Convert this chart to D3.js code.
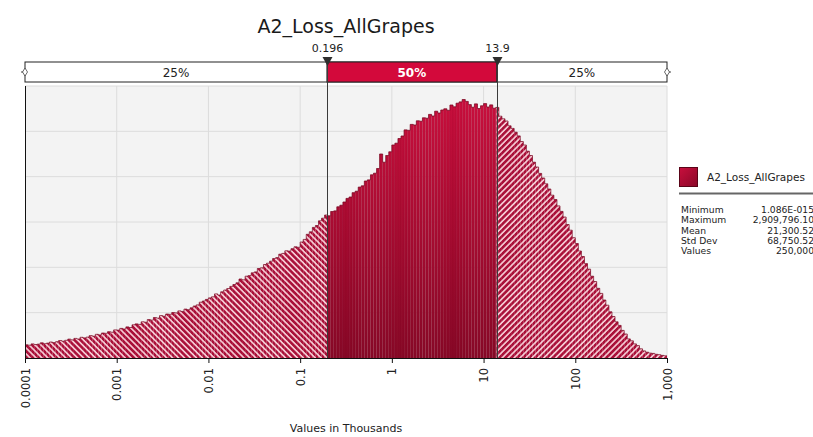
<!DOCTYPE html>
<html>
<head>
<meta charset="utf-8">
<script src="https://cdn.jsdelivr.net/npm/d3@7"></script>
<style>
  html, body { margin: 0; padding: 0; background: #ffffff; }
  svg { display: block; }
  text { font-family: "DejaVu Sans", Verdana, sans-serif; }
</style>
</head>
<body>
<svg id="chart" width="813" height="437"></svg>
<script>
// ---------------- DATA ----------------
const chartTitle = "A2_Loss_AllGrapes";
const axisTitle = "Values in Thousands";
const domainMin = 0.0001;
const domainMax = 1000;
const binsPerDecade = 30;
// histogram counts per bin (log-spaced bins, 30 per decade, from 0.0001 to 1,000)
const binCounts = [
  132,128,141,135,139,152,143,149,160,154,
  163,175,168,177,189,181,196,190,207,201,
  209,224,218,237,231,250,247,263,258,281,
  279,296,290,311,305,332,341,336,362,358,
  384,379,405,399,424,418,440,437,455,451,
  471,466,489,483,502,520,531,558,570,586,
  601,612,641,630,662,680,695,716,735,752,
  790,782,818,824,852,861,895,902,935,948,
  968,995,1004,1038,1046,1072,1069,1093,1112,1107,
  1160,1186,1237,1262,1306,1325,1372,1398,1430,1422,
  1465,1471,1512,1528,1560,1596,1610,1653,1668,1709,
  1722,1770,1781,1832,1848,1895,2040,1958,2025,2062,
  2130,2148,2195,2220,2281,2277,2336,2330,2372,2368,
  2402,2398,2436,2420,2468,2450,2480,2492,2477,2530,
  2512,2548,2561,2585,2566,2534,2508,2541,2495,2522,
  2544,2510,2531,2498,2506,2418,2392,2370,2322,2296,
  2258,2221,2165,2130,2068,2025,1958,1910,1846,1800,
  1742,1690,1628,1585,1521,1466,1410,1335,1278,1203,
  1145,1070,1015,944,889,818,765,697,646,580,
  528,462,415,362,326,276,240,191,172,141,
  124,92,71,58,49,46,37,33,26,22
];
const yMaxCount = 2720;
const gridDivisions = 6;
const tickValues = [0.0001, 0.001, 0.01, 0.1, 1, 10, 100, 1000];
const tickLabels = ["0.0001", "0.001", "0.01", "0.1", "1", "10", "100", "1,000"];
const quantileValues = [0.196, 13.9];
const quantileLabels = ["0.196", "13.9"];
const sectionLabels = ["25%", "50%", "25%"];
const legendName = "A2_Loss_AllGrapes";
const statNames = ["Minimum", "Maximum", "Mean", "Std Dev", "Values"];
const statValues = ["1.086E-015", "2,909,796.10", "21,300.52", "68,750.52", "250,000"];

// ---------------- LAYOUT ----------------
const plotLeft = 25, plotRight = 667, plotTop = 86, plotBottom = 358;
const barTop = 62, barBottom = 82;

const svg = d3.select("#chart");
const x = d3.scaleLog().domain([domainMin, domainMax]).range([plotLeft, plotRight]);
const y = d3.scaleLinear().domain([0, yMaxCount]).range([plotBottom, plotTop]);

const logMin = Math.log10(domainMin);
const bins = binCounts.map((c, i) => ({
  x0: Math.pow(10, logMin + i / binsPerDecade),
  x1: Math.pow(10, logMin + (i + 1) / binsPerDecade),
  count: c
}));

// defs
const defs = svg.append("defs");
const grad = defs.append("linearGradient").attr("id", "solidGrad")
  .attr("gradientUnits", "userSpaceOnUse")
  .attr("x1", 0).attr("x2", 0).attr("y1", plotTop).attr("y2", plotBottom);
grad.append("stop").attr("offset", "0%").attr("stop-color", "#cc0f3e");
grad.append("stop").attr("offset", "100%").attr("stop-color", "#860826");

const legGrad = defs.append("linearGradient").attr("id", "legGrad")
  .attr("x1", 0).attr("x2", 1).attr("y1", 0).attr("y2", 1);
legGrad.append("stop").attr("offset", "0%").attr("stop-color", "#c80f3d");
legGrad.append("stop").attr("offset", "100%").attr("stop-color", "#8a0828");

function hatch(id, angle) {
  const p = defs.append("pattern").attr("id", id)
    .attr("patternUnits", "userSpaceOnUse")
    .attr("width", 4.2).attr("height", 4.2)
    .attr("patternTransform", `rotate(${angle})`);
  p.append("rect").attr("width", 4.2).attr("height", 4.2).attr("fill", "#a90f38");
  p.append("rect").attr("x", 2.6).attr("width", 1.6).attr("height", 4.2).attr("fill", "#f7cdd6");
}
hatch("hatchL", -45);
hatch("hatchR", 45);

const xq1 = x(quantileValues[0]);
const xq2 = x(quantileValues[1]);
const clipDefs = [
  { id: "clipL", x0: plotLeft, x1: xq1 },
  { id: "clipM", x0: xq1, x1: xq2 },
  { id: "clipR", x0: xq2, x1: plotRight }
];
clipDefs.forEach(c => {
  defs.append("clipPath").attr("id", c.id)
    .append("rect").attr("x", c.x0).attr("y", plotTop - 2)
    .attr("width", c.x1 - c.x0).attr("height", plotBottom - plotTop + 2);
});

// ---------------- TITLE ----------------
svg.append("text").attr("x", 346).attr("y", 33).attr("text-anchor", "middle")
  .attr("font-size", 19).attr("fill", "#1a1a1a").text(chartTitle);

// ---------------- PLOT BACKGROUND & GRID ----------------
svg.append("rect").attr("x", plotLeft).attr("y", plotTop)
  .attr("width", plotRight - plotLeft).attr("height", plotBottom - plotTop)
  .attr("fill", "#f3f3f3");

const gridVals = d3.range(1, gridDivisions + 1).map(k => k * yMaxCount / gridDivisions);
svg.append("g").selectAll("line").data(gridVals).join("line")
  .attr("x1", plotLeft).attr("x2", plotRight)
  .attr("y1", d => y(d)).attr("y2", d => y(d))
  .attr("stroke", "#dcdcdc").attr("stroke-width", 1);
svg.append("g").selectAll("line").data(tickValues.slice(1)).join("line")
  .attr("x1", d => x(d)).attr("x2", d => x(d))
  .attr("y1", plotTop).attr("y2", plotBottom)
  .attr("stroke", "#dcdcdc").attr("stroke-width", 1);

// ---------------- BARS ----------------
const sections = [
  { clip: "clipL", fill: "url(#hatchL)" },
  { clip: "clipM", fill: "url(#solidGrad)" },
  { clip: "clipR", fill: "url(#hatchR)" }
];
sections.forEach((s, si) => {
  const g = svg.append("g").attr("clip-path", `url(#${s.clip})`);
  g.selectAll("rect").data(bins).join("rect")
    .attr("x", d => x(d.x0))
    .attr("width", d => x(d.x1) - x(d.x0))
    .attr("y", d => y(d.count))
    .attr("height", d => y(0) - y(d.count))
    .attr("fill", s.fill)
    .attr("stroke", si === 1 ? "#7d0622" : "none")
    .attr("stroke-opacity", 0.2)
    .attr("stroke-width", 0.5);
});

// step outline along the top of the histogram
const stepPts = [];
bins.forEach(d => { stepPts.push([x(d.x0), y(d.count)]); stepPts.push([x(d.x1), y(d.count)]); });
svg.append("path")
  .attr("d", d3.line()(stepPts))
  .attr("fill", "none").attr("stroke", "#7a0823").attr("stroke-width", 0.9)
  .attr("stroke-opacity", 0.8);

// ---------------- PLOT FRAME & AXIS ----------------
svg.append("line").attr("x1", plotLeft + 0.5).attr("x2", plotLeft + 0.5)
  .attr("y1", plotTop).attr("y2", plotBottom).attr("stroke", "#111").attr("stroke-width", 1);

const xAxis = d3.axisBottom(x).tickValues(tickValues)
  .tickFormat((d, i) => tickLabels[i]).tickSize(5).tickSizeOuter(0);
const gx = svg.append("g").attr("transform", `translate(0,${plotBottom})`).call(xAxis);
gx.select(".domain").attr("stroke", "#111");
gx.selectAll(".tick line").attr("stroke", "#111");
gx.selectAll(".tick text")
  .attr("transform", "rotate(-90)")
  .attr("x", -10).attr("y", 0).attr("dy", "0.35em")
  .attr("text-anchor", "end")
  .attr("font-size", 11.5).attr("font-family", "DejaVu Sans, sans-serif")
  .attr("fill", "#222");

svg.append("text").attr("x", 346).attr("y", 432).attr("text-anchor", "middle")
  .attr("font-size", 11).attr("fill", "#222").text(axisTitle);

// ---------------- DELIMITER BAR ----------------
const sectionBounds = [
  [x(domainMin), xq1],
  [xq1, xq2],
  [xq2, x(domainMax)]
];
svg.append("rect").attr("x", x(domainMin)).attr("y", barTop)
  .attr("width", x(domainMax) - x(domainMin)).attr("height", barBottom - barTop)
  .attr("fill", "#ffffff").attr("stroke", "#222").attr("stroke-width", 1);
svg.append("rect").attr("x", xq1).attr("y", barTop)
  .attr("width", xq2 - xq1).attr("height", barBottom - barTop)
  .attr("fill", "#d3093b").attr("stroke", "#222").attr("stroke-width", 1);

sectionLabels.forEach((lab, i) => {
  const cx = (sectionBounds[i][0] + sectionBounds[i][1]) / 2;
  svg.append("text").attr("x", cx).attr("y", 77).attr("text-anchor", "middle")
    .attr("font-size", 12).attr("fill", i === 1 ? "#ffffff" : "#222")
    .attr("font-weight", i === 1 ? "bold" : "normal").text(lab);
});

// end markers of the delimiter bar
[x(domainMin), x(domainMax)].forEach((ex, i) => {
  const dir = i === 0 ? -1 : 1;
  const cy = (barTop + barBottom) / 2;
  svg.append("line").attr("x1", ex).attr("x2", ex + dir * 4)
    .attr("y1", cy).attr("y2", cy).attr("stroke", "#444").attr("stroke-width", 1);
  svg.append("path")
    .attr("d", `M${ex},${cy - 4}L${ex + 2.5},${cy}L${ex},${cy + 4}L${ex - 2.5},${cy}Z`)
    .attr("fill", "#ffffff").attr("stroke", "#444").attr("stroke-width", 0.8);
});

// quantile lines, markers, labels
quantileValues.forEach((q, i) => {
  const qx = Math.round(x(q)) + 0.5;
  svg.append("line").attr("x1", qx).attr("x2", qx)
    .attr("y1", barTop).attr("y2", plotBottom)
    .attr("stroke", "#3a3a3a").attr("stroke-width", 1);
  svg.append("path")
    .attr("d", `M${qx - 5},57L${qx + 5},57L${qx},66Z`)
    .attr("fill", "#2e2e2e");
  svg.append("text").attr("x", qx).attr("y", 52).attr("text-anchor", "middle")
    .attr("font-size", 11).attr("fill", "#222").text(quantileLabels[i]);
});

// ---------------- LEGEND ----------------
const lg = svg.append("g");
lg.append("rect").attr("x", 679.5).attr("y", 167.5).attr("width", 18).attr("height", 19)
  .attr("fill", "url(#legGrad)").attr("stroke", "#5a0418").attr("stroke-width", 1);
lg.append("text").attr("x", 707).attr("y", 181).attr("font-size", 10.5)
  .attr("fill", "#222").text(legendName);
lg.append("line").attr("x1", 679).attr("x2", 813).attr("y1", 193.5).attr("y2", 193.5)
  .attr("stroke", "#666").attr("stroke-width", 2);
statNames.forEach((n, i) => {
  const yy = 213 + i * 10.3;
  lg.append("text").attr("x", 681).attr("y", yy).attr("font-size", 9.2)
    .attr("fill", "#222").text(n);
  lg.append("text").attr("x", 814).attr("y", yy).attr("font-size", 9.2)
    .attr("text-anchor", "end").attr("fill", "#222").text(statValues[i]);
});
</script>
</body>
</html>
